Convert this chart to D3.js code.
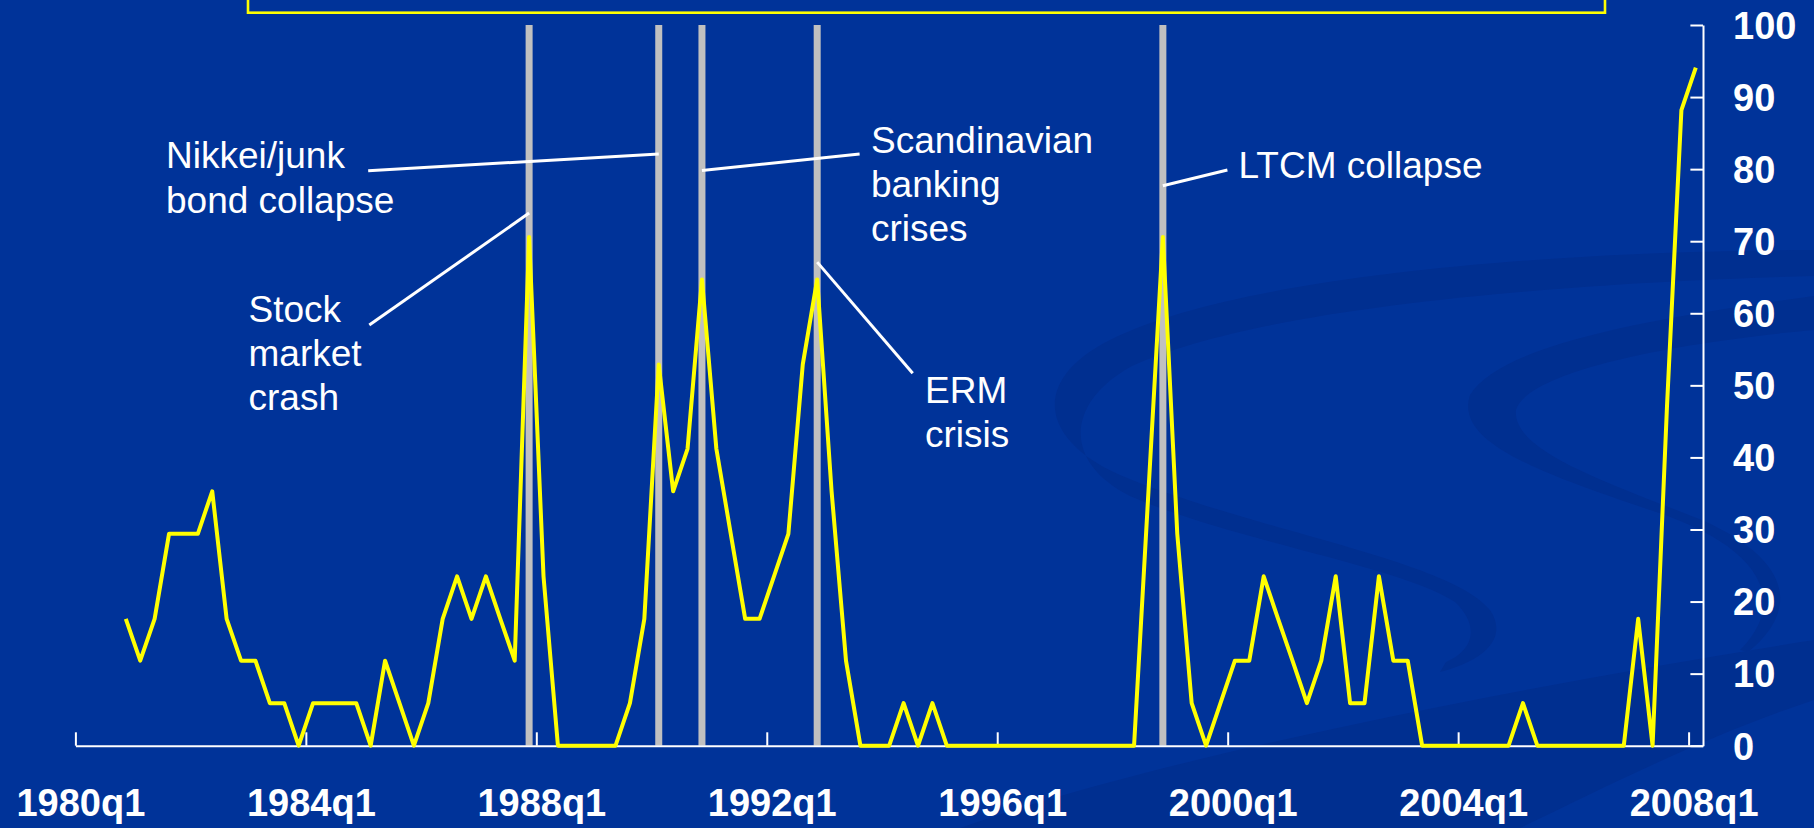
<!DOCTYPE html>
<html>
<head>
<meta charset="utf-8">
<script src="https://cdn.jsdelivr.net/npm/d3@7"></script>
<style>
  html, body { margin: 0; padding: 0; background: #003399; }
  svg { display: block; }
</style>
</head>
<body>
<svg id="chart" width="1814" height="828"></svg>
<script>
// ---- data ---------------------------------------------------------------
// First observation of the series (quarterly).
const firstQuarter = "1980q4";

// Share of countries in crisis, per cent, one value per quarter from 1980q4 to 2008q1.
const shareInCrisis = [
  17.6, 11.8, 17.6, 29.4, 29.4, 29.4, 35.3, 17.6, 11.8, 11.8,
  5.9, 5.9, 0, 5.9, 5.9, 5.9, 5.9, 0, 11.8, 5.9,
  0, 5.9, 17.6, 23.5, 17.6, 23.5, 17.6, 11.8, 70.6, 23.5,
  0, 0, 0, 0, 0, 5.9, 17.6, 52.9, 35.3, 41.2,
  64.7, 41.2, 29.4, 17.6, 17.6, 23.5, 29.4, 52.9, 64.7, 35.3,
  11.8, 0, 0, 0, 5.9, 0, 5.9, 0, 0, 0,
  0, 0, 0, 0, 0, 0, 0, 0, 0, 0,
  0, 35.3, 70.6, 29.4, 5.9, 0, 5.9, 11.8, 11.8, 23.5,
  17.6, 11.8, 5.9, 11.8, 23.5, 5.9, 5.9, 23.5, 11.8, 11.8,
  0, 0, 0, 0, 0, 0, 0, 5.9, 0, 0,
  0, 0, 0, 0, 0, 17.6, 0, 47.1, 88.2, 94.1
];

// Axis ticks.
const xTickLabels = ["1980q1", "1984q1", "1988q1", "1992q1", "1996q1", "2000q1", "2004q1", "2008q1"];
const yTickValues = [0, 10, 20, 30, 40, 50, 60, 70, 80, 90, 100];

// Crisis episodes marked with a vertical bar.
const crisisQuarters = ["1987q4", "1990q1", "1990q4", "1992q4", "1998q4"];
const crisisNames = ["Stock market crash", "Nikkei/junk bond collapse", "Scandinavian banking crises", "ERM crisis", "LTCM collapse"];

// ---- helpers ------------------------------------------------------------
const baseYear = 1980;
function quarterIndex(label) {
  const [y, q] = label.split("q").map(Number);
  return (y - baseYear) * 4 + (q - 1);
}
const start = quarterIndex(firstQuarter);
const series = shareInCrisis.map((v, i) => ({ q: start + i, v }));

// ---- layout -------------------------------------------------------------
const W = 1814, H = 828;
const plot = { left: 75.4, right: 1703, top: 25, bottom: 745.7 };
const FONT = "'Liberation Sans', Arial, Helvetica, sans-serif";
const BG = "#003399";

const x = d3.scaleLinear().domain([0, 113]).range([plot.left, plot.right]);
const y = d3.scaleLinear().domain([0, 100]).range([plot.bottom, plot.top]);
// observations sit in the middle of their quarter
const xMid = q => x(q + 0.5);

const svg = d3.select("#chart");
svg.append("rect").attr("width", W).attr("height", H).attr("fill", BG);

// slide background swirls
const deco = svg.append("g").attr("fill", "#002f90");
deco.append("path").attr("d",
  "M1814,250 C1600,250 1250,270 1110,340 C1030,380 1040,440 1120,475 " +
  "C1250,530 1450,560 1490,610 C1510,640 1480,662 1440,672 " +
  "L1446,662 C1474,650 1480,626 1455,602 C1400,566 1230,540 1130,496 " +
  "C1062,462 1066,402 1132,366 C1272,302 1600,282 1814,276 Z");
deco.append("path").attr("d",
  "M1814,296 C1650,318 1500,345 1470,395 C1455,440 1530,470 1650,510 " +
  "C1760,545 1790,600 1740,650 L1748,652 C1800,610 1792,560 1702,520 " +
  "C1600,480 1512,450 1516,410 C1526,375 1650,345 1814,330 Z");
deco.append("path").attr("d",
  "M960,828 C1150,760 1500,690 1814,640 L1814,700 C1700,738 1600,790 1520,828 Z");

// title frame running off the top edge
svg.append("rect")
  .attr("x", 248).attr("y", -60).attr("width", 1357).attr("height", 72.7)
  .attr("fill", "none").attr("stroke", "#ffff00").attr("stroke-width", 2.6);

// crisis bars
svg.append("g").selectAll("rect")
  .data(crisisQuarters)
  .join("rect")
  .attr("x", d => xMid(quarterIndex(d)) - 3.5)
  .attr("width", 7)
  .attr("y", y(100))
  .attr("height", y(0) - y(100))
  .attr("fill", "#c0c0c0");

// axes
const axisColor = "#ffffff";
const xAxis = d3.axisBottom(x)
  .tickValues(xTickLabels.map(quarterIndex))
  .tickFormat((d, i) => xTickLabels[i])
  .tickSizeInner(-13.4)
  .tickSizeOuter(0);
const gx = svg.append("g").attr("transform", `translate(0,${plot.bottom})`).call(xAxis);
gx.select(".domain").attr("stroke", axisColor).attr("stroke-width", 2);
gx.selectAll(".tick line").attr("stroke", axisColor).attr("stroke-width", 2);
gx.selectAll(".tick text")
  .attr("fill", "#ffffff")
  .attr("font-family", FONT).attr("font-size", 38).attr("font-weight", "bold")
  .attr("y", 70.5).attr("dy", 0).attr("dx", 5);

const yAxis = d3.axisRight(y)
  .tickValues(yTickValues)
  .tickSizeInner(-12.6)
  .tickSizeOuter(0)
  .tickPadding(30);
const gy = svg.append("g").attr("transform", `translate(${plot.right},0)`).call(yAxis);
gy.select(".domain").attr("stroke", axisColor).attr("stroke-width", 2);
gy.selectAll(".tick line").attr("stroke", axisColor).attr("stroke-width", 2);
gy.selectAll(".tick text")
  .attr("fill", "#ffffff")
  .attr("font-family", FONT).attr("font-size", 38).attr("font-weight", "bold")
  .attr("text-anchor", "start").attr("dy", "0.35em");

// the series
const line = d3.line().x(d => xMid(d.q)).y(d => y(d.v));
svg.append("path")
  .datum(series)
  .attr("d", line)
  .attr("fill", "none")
  .attr("stroke", "#ffff00")
  .attr("stroke-width", 4)
  .attr("stroke-linejoin", "round");

// annotations: text block and a leader line to a point on the crisis bar
const notes = [
  { event: 1, lines: ["Nikkei/junk", "bond collapse"], tx: 166, ty: 168.3, from: [368.2, 170.7], at: 82.1 },
  { event: 0, lines: ["Stock", "market", "crash"], tx: 248.5, ty: 321.7, from: [369.3, 325], at: 73.9 },
  { event: 2, lines: ["Scandinavian", "banking", "crises"], tx: 871, ty: 152.5, from: [859.6, 154], at: 79.8 },
  { event: 3, lines: ["ERM", "crisis"], tx: 925, ty: 402.5, from: [912.7, 373.3], at: 67.1 },
  { event: 4, lines: ["LTCM collapse"], tx: 1238.5, ty: 178.3, from: [1227.4, 170], at: 77.7 }
];
const gNotes = svg.append("g");
notes.forEach(n => {
  gNotes.append("line")
    .attr("x1", n.from[0]).attr("y1", n.from[1])
    .attr("x2", xMid(quarterIndex(crisisQuarters[n.event]))).attr("y2", y(n.at))
    .attr("stroke", "#ffffff").attr("stroke-width", 3);
  const t = gNotes.append("text")
    .attr("x", n.tx).attr("y", n.ty)
    .attr("fill", "#ffffff")
    .attr("font-family", FONT).attr("font-size", 37);
  n.lines.forEach((s, i) => {
    t.append("tspan").attr("x", n.tx).attr("dy", i === 0 ? 0 : 44.3).text(s);
  });
});
</script>
</body>
</html>
